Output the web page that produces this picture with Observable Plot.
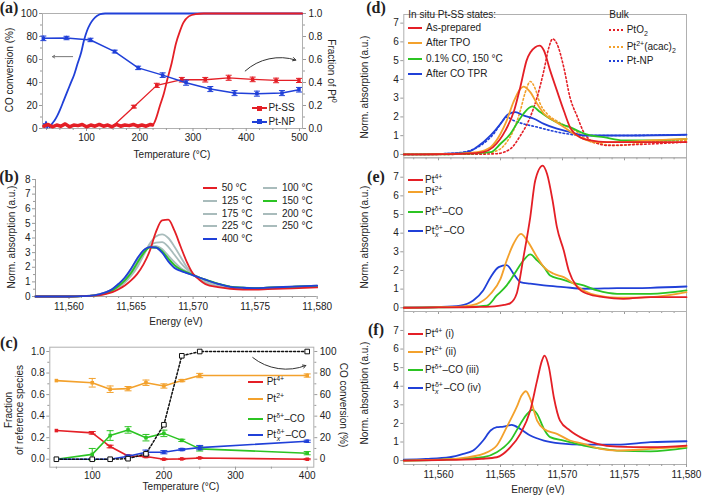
<!DOCTYPE html>
<html><head><meta charset="utf-8">
<script src="https://cdn.jsdelivr.net/npm/d3@7"></script>
<script src="https://cdn.jsdelivr.net/npm/@observablehq/plot@0.6"></script>
<style>
body{margin:0;background:#fff;}
#fig{position:relative;width:702px;height:496px;overflow:hidden;font-family:"Liberation Sans",Arial,sans-serif;font-size:10px;color:#222;background:#fff;}
#fig svg{position:absolute;}
.t{position:absolute;white-space:nowrap;transform:translate(-50%,-50%);line-height:1;text-align:center;}
.l{position:absolute;white-space:nowrap;transform:translate(0,-50%);line-height:1;}
.sw{position:absolute;height:0;}
.pl{font-family:"Liberation Serif","DejaVu Serif",serif;font-weight:bold;font-size:16px;}
sup,sub{font-size:7px;line-height:0;}
.st{display:inline-block;vertical-align:middle;font-size:7px;line-height:7px;text-align:left;margin:0 1px 0 0.5px;}
.st span{display:block;}
</style></head><body><div id="fig"></div>
<script>
// ================= DATA =================
const RED="#e41f26", ORANGE="#f3a12c", GREEN="#2cc423", BLUE="#2040d8", GRAY="#a9bcbc";

// (a) CO conversion (%) and fraction of Pt0
const aXDomain=[17.4,505.6], aYDomain=[0,100];
const aXTicks=[100,200,300,400,500], aXMinor=[25,50,75,125,150,175,225,250,275,325,350,375,425,450,475];
const aYTicks=[0,20,40,60,80,100], aYMinor=[10,30,50,70,90];
const aNpConvT=[20,22,24,26,28,31,35,40,45,50,57,63,70,77,83,90,95,101,107,113,120,126,135,505];
const aNpConv =[4,1,6,0.5,3,1,4,7,11,16,24,31,39,47,56,66,76,85,91,95,98,99.5,100,100];
const aSsConvT=[20,28,36,44,52,60,68,76,84,92,100,108,116,124,132,140,148,156,164,172,180,188,196,204,212,220,224,230,238,245,252,260,268,275,282,292,305,320,505];
const aSsConv =[2,3.5,1.5,3,2,4,1.5,3,2.5,3.5,1.5,3,2,3.5,2,3,1.5,3.5,2,3,2.5,3.5,2,3,2,3.5,3,8,20,30,43,57,74,84,92,97.5,99.5,100,100];
const aNpT=[19,62.5,107.5,153,197,243,287,332.5,378,420,467,499];
const aNpFrac=[0.784,0.787,0.77,0.669,0.527,0.464,0.398,0.343,0.308,0.303,0.308,0.337];
const aNpErr=[0.02,0.015,0.015,0.012,0.015,0.02,0.022,0.022,0.022,0.022,0.022,0.02];
const aSsT=[152,189,232,279,323,367,412,456,499];
const aSsFrac=[0.03,0.19,0.375,0.424,0.424,0.441,0.427,0.418,0.418];
const aSsErr=[0,0.012,0.018,0.02,0.02,0.022,0.02,0.02,0.018];
const aArrowLeft=[{x1:74,y1:62.5,x2:36,y2:62.5}];
const aArrowCurve=[{x1:398,y1:50,x2:493,y2:59.5}];
const aNames=["Pt-SS","Pt-NP"];

// (b) spectra vs temperature
const bXDomain=[11557.3,11580], bYDomain=[0,8];
const bXTicks=[11560,11565,11570,11575,11580];
const bXMinor=[11558,11559,11561,11562,11563,11564,11566,11567,11568,11569,11571,11572,11573,11574,11576,11577,11578,11579];
const bYTicks=[0,1,2,3,4,5,6,7,8], bYMinor=[0.5,1.5,2.5,3.5,4.5,5.5,6.5,7.5];
const eB=[11557.3,11559,11560,11561,11562,11562.5,11563,11563.5,11564,11564.5,11565,11565.5,11566,11566.5,11567,11567.5,11568,11568.5,11569,11569.5,11570,11570.5,11571,11572,11573,11574,11575,11576,11578,11580];
const b50 =[0,0,0,0.02,0.06,0.1,0.18,0.3,0.5,0.75,1.1,1.55,2.2,3.1,4.4,5.2,5.25,4.5,3.4,2.35,1.55,1.15,0.85,0.64,0.53,0.48,0.48,0.5,0.55,0.62];
const b100=[0,0,0,0.02,0.06,0.12,0.22,0.38,0.62,0.95,1.4,2.0,2.8,3.6,4.1,4.25,4.0,3.4,2.7,2.0,1.5,1.2,0.95,0.72,0.58,0.55,0.55,0.58,0.63,0.7];
const b125=[0,0,0,0.02,0.06,0.12,0.23,0.4,0.66,1.0,1.5,2.15,2.9,3.45,3.68,3.72,3.4,2.85,2.3,1.85,1.5,1.25,1.0,0.76,0.62,0.57,0.56,0.58,0.64,0.7];
const b150=[0,0,0,0.02,0.06,0.13,0.25,0.42,0.72,1.1,1.6,2.3,2.95,3.35,3.35,3.1,2.6,2.15,1.85,1.65,1.48,1.3,1.15,0.88,0.68,0.6,0.57,0.6,0.66,0.72];
const b175=[0,0,0,0.02,0.07,0.14,0.26,0.45,0.75,1.15,1.7,2.4,3.05,3.4,3.45,3.25,2.8,2.35,1.95,1.7,1.5,1.28,1.08,0.8,0.64,0.58,0.56,0.59,0.65,0.72];
const b200=[0,0,0,0.02,0.07,0.15,0.28,0.48,0.8,1.2,1.8,2.5,3.1,3.38,3.38,3.1,2.6,2.15,1.85,1.65,1.48,1.28,1.1,0.84,0.66,0.59,0.56,0.6,0.66,0.73];
const b225=[0,0,0,0.02,0.08,0.16,0.29,0.5,0.83,1.25,1.85,2.55,3.12,3.38,3.35,3.05,2.5,2.05,1.8,1.62,1.46,1.29,1.12,0.85,0.66,0.6,0.57,0.6,0.67,0.74];
const b250=[0,0,0,0.02,0.08,0.16,0.3,0.51,0.85,1.28,1.88,2.58,3.14,3.38,3.34,3.02,2.45,2.0,1.78,1.61,1.46,1.3,1.14,0.86,0.66,0.6,0.57,0.6,0.68,0.75];
const b400=[0,0,0,0.02,0.08,0.17,0.3,0.52,0.87,1.3,1.9,2.6,3.15,3.38,3.35,3.0,2.4,1.95,1.75,1.6,1.45,1.3,1.15,0.87,0.66,0.6,0.57,0.6,0.68,0.75];
const bNames=["50 °C","100 °C","125 °C","150 °C","175 °C","200 °C","225 °C","250 °C","400 °C"];

// (c) fractions of reference species
const cXDomain=[40.8,409.2], cYDomain=[-0.074,1.04];
const cXTicks=[100,200,300,400], cXMinor=[50,150,250,350];
const cYTicks=[0,0.2,0.4,0.6,0.8,1.0], cYMinor=[0.1,0.3,0.5,0.7,0.9];
const cRTicks=[0,20,40,60,80,100], cRMinor=[10,30,50,70,90];
const cT=[50,100,125,150,175,200,225,250,400];
const cPt4=[0.266,0.245,0.118,0.03,0.025,0.0,0.003,0.012,0.0];
const cPt4Err=[0,0.012,0.012,0.01,0.01,0.005,0.005,0.005,0.005];
const cPt2=[0.73,0.71,0.65,0.655,0.71,0.68,0.73,0.777,0.777];
const cPt2Err=[0,0.04,0.03,0.02,0.025,0.02,0.01,0.02,0.015];
const cPtd=[0,0.045,0.22,0.272,0.2,0.24,0.175,0.096,0.056];
const cPtdErr=[0,0.055,0.045,0.03,0.03,0.03,0.01,0.02,0.015];
const cPtx=[0,0,0,0.028,0.065,0.065,0.09,0.108,0.167];
const cPtxErr=[0,0,0,0.01,0.02,0.015,0.01,0.02,0.01];
const cConv=[0,0,0,0.5,5,32,96,100,100];
const cArrowCurve=[{x1:324,y1:0.944,x2:398,y2:0.87}];

// (d)(e)(f) spectra
const dXDomain=[11557.2,11580];
const dYDomain=[-0.18,7.46], eYDomain=[-0.2,8.04], fYDomain=[-0.21,8.02];
const dYTicks=[0,1,2,3,4,5,6,7];
const d_asPrep=[[11557.2,0],[11560,0.01],[11562.3,0.04],[11563.6,0.12],[11564.4,0.39],[11565.4,1.28],[11566.1,2.34],[11566.6,3.6],[11567.1,5.0],[11567.8,5.72],[11568.15,5.8],[11568.5,5.54],[11569,4.48],[11569.55,3.4],[11570.1,2.34],[11570.6,1.46],[11571.4,0.92],[11572.25,0.75],[11573.6,0.66],[11575.7,0.66],[11580,0.66]];
const d_afterTPO=[[11557.2,0],[11560,0.02],[11562,0.06],[11563.1,0.12],[11564.2,0.39],[11565,1.1],[11565.5,1.8],[11566.05,2.8],[11566.6,3.5],[11566.85,3.62],[11567.4,3.32],[11567.95,2.7],[11568.5,2.17],[11569.3,1.81],[11570.1,1.46],[11570.9,1.1],[11571.7,0.83],[11572.8,0.66],[11574.4,0.66],[11577.1,0.75],[11580,0.83]];
const d_co150=[[11557.2,0],[11560,0.01],[11562.5,0.05],[11564.2,0.12],[11565,0.57],[11565.8,1.1],[11566.3,1.63],[11566.85,2.17],[11567.55,2.56],[11568.2,2.26],[11569,1.9],[11569.8,1.63],[11570.6,1.46],[11571.45,1.19],[11572.25,1.01],[11573.3,0.92],[11574.9,0.75],[11577.1,0.75],[11580,0.83]];
const d_afterTPR=[[11557.2,0],[11560,0.02],[11562.3,0.12],[11563.1,0.39],[11564.2,1.01],[11565,1.63],[11565.5,2.08],[11566.2,2.26],[11566.85,2.08],[11567.7,1.9],[11568.5,1.63],[11569.55,1.37],[11570.6,1.19],[11571.7,1.01],[11574.4,1.01],[11580,1.05]];
const d_PtO2=[[11557.2,0],[11563,0.01],[11564.7,0.04],[11565.8,0.3],[11566.6,1.0],[11567.4,2.0],[11567.95,3.05],[11568.5,4.48],[11568.9,5.7],[11569.2,6.16],[11569.55,5.9],[11570.1,4.65],[11570.6,3.05],[11571.2,2.0],[11571.7,1.2],[11572.25,0.75],[11572.9,0.57],[11573.6,0.48],[11575.7,0.52],[11578.4,0.6],[11580,0.66]];
const d_acac=[[11557.2,0],[11562,0.02],[11564,0.08],[11565,0.3],[11565.5,0.66],[11566.05,1.28],[11566.6,2.34],[11567,3.32],[11567.4,3.89],[11567.8,3.5],[11568.2,2.7],[11568.75,2.17],[11569.55,1.78],[11570.35,1.49],[11571.2,1.19],[11572,0.75],[11573.05,0.57],[11574.4,0.48],[11577.1,0.66],[11580,0.75]];
const d_PtNP=[[11557.2,0],[11560,0.03],[11561.5,0.08],[11562.55,0.21],[11563.6,0.57],[11564.45,1.1],[11565.1,1.72],[11565.5,1.99],[11566.05,1.81],[11566.85,1.63],[11567.95,1.46],[11569,1.28],[11570.35,1.1],[11571.7,1.01],[11574.4,1.01],[11580,1.05]];
const e_pt4=[[11557.2,0],[11560,0.02],[11563,0.04],[11564.2,0.06],[11565.3,0.15],[11565.8,0.25],[11566.3,0.75],[11566.85,2.7],[11567.4,4.86],[11567.8,6.82],[11568.4,7.62],[11568.75,7.18],[11569.2,5.75],[11569.55,4.32],[11570.1,3.07],[11570.5,2.0],[11571.2,1.1],[11572,0.75],[11573.3,0.57],[11574.9,0.48],[11577.1,0.57],[11580,0.57]];
const e_pt2=[[11557.2,0],[11560,0.03],[11562,0.08],[11563.1,0.21],[11564.2,0.75],[11565,1.55],[11565.5,2.54],[11566.05,3.43],[11566.65,3.96],[11567.15,3.6],[11567.95,2.71],[11568.5,2.18],[11569.3,1.82],[11570.1,1.64],[11570.9,1.29],[11571.7,0.93],[11572.8,0.66],[11574.4,0.54],[11577.1,0.57],[11580,0.84]];
const e_ptd=[[11557.2,0],[11560,0.02],[11562,0.05],[11563.9,0.12],[11564.7,0.66],[11565.5,1.2],[11566.3,2.0],[11566.85,2.54],[11567.4,2.86],[11567.95,2.54],[11568.5,2.18],[11569,1.73],[11569.8,1.55],[11570.6,1.38],[11571.7,1.2],[11572.8,0.93],[11574.4,0.75],[11577.1,0.75],[11580,0.93]];
const e_ptx=[[11557.2,0],[11560,0.04],[11561.75,0.12],[11562.8,0.39],[11563.6,0.93],[11564.2,1.64],[11564.85,2.18],[11565.5,2.29],[11566.05,1.82],[11566.6,1.38],[11567.4,1.29],[11568.5,1.2],[11570.1,1.11],[11571.7,1.02],[11574.4,1.05],[11577.1,1.07],[11580,1.14]];
const f_pt4=[[11557.2,0],[11560,0.03],[11562,0.05],[11563.5,0.1],[11564.7,0.18],[11565.8,0.72],[11566.6,1.44],[11567.4,2.69],[11567.95,4.3],[11568.35,5.39],[11568.55,5.65],[11568.9,5.03],[11569.3,3.41],[11569.8,2.15],[11570.6,1.62],[11571.7,1.17],[11572.8,0.9],[11574.4,0.75],[11577.1,0.72],[11580,0.81]];
const f_pt2=[[11557.2,0],[11560,0.05],[11562,0.15],[11563.6,0.36],[11564.7,0.81],[11565.5,1.8],[11566.3,2.87],[11566.7,3.5],[11567.05,3.73],[11567.4,3.32],[11567.95,2.15],[11568.5,1.7],[11569.55,1.44],[11570.6,1.08],[11571.7,0.9],[11573.05,0.63],[11574.4,0.54],[11577.1,0.63],[11580,0.75]];
const f_ptd=[[11557.2,0],[11560,0.04],[11562,0.1],[11563.6,0.18],[11564.7,0.45],[11565.8,1.08],[11566.6,1.97],[11567.15,2.51],[11567.55,2.73],[11567.95,2.51],[11568.5,1.7],[11569,1.26],[11570.1,1.08],[11571.7,0.81],[11573.3,0.63],[11574.4,0.54],[11577.1,0.5],[11580,0.68]];
const f_ptx=[[11557.2,0.05],[11559,0.09],[11560.9,0.18],[11562,0.36],[11562.8,0.54],[11563.6,1.08],[11564.2,1.62],[11564.7,1.8],[11565.25,1.83],[11565.9,1.92],[11566.6,1.7],[11567.4,1.35],[11568.5,1.08],[11569.8,0.93],[11571.7,0.86],[11574.4,0.86],[11577.1,0.99],[11580,1.04]];

// ================= HELPERS =================
const fig=document.getElementById("fig");
const FONT='"Liberation Sans",Arial,sans-serif';
const baseStyle={fontFamily:FONT,fontSize:"10px",background:"transparent",color:"#222",overflow:"visible"};
const AX="#9a9a9a";
function place(svg,left,top){svg.style.left=left+"px";svg.style.top=top+"px";fig.appendChild(svg);}
function txt(html,x,y,cls,extra){const d=document.createElement("div");d.className=cls||"t";d.innerHTML=html;d.style.left=x+"px";d.style.top=y+"px";if(extra)d.style.cssText+=extra;fig.appendChild(d);return d;}
function vtxt(html,x,y,deg){return txt(html,x,y,"t",`transform:translate(-50%,-50%) rotate(${deg}deg);`);}
function sw(x1,x2,y,color,dotted,marker){
  const s=document.createElement("div");s.className="sw";
  s.style.cssText+=`left:${x1}px;top:${y-1}px;width:${x2-x1}px;border-top:2px ${dotted?"dotted":"solid"} ${color};`;
  fig.appendChild(s);
  if(marker){const m=document.createElement("div");m.style.cssText=`position:absolute;left:${(x1+x2)/2-2.5}px;top:${y-2.5}px;width:5px;height:5px;background:${color}`;fig.appendChild(m);}
}
const capSym={draw(ctx,size){const r=Math.sqrt(size/Math.PI);ctx.moveTo(-r,0);ctx.lineTo(r,0);}};
const E=d3.format(",");
const pairs=a=>a.map(([x,y])=>({x,y}));
function errMarks(tab,color,capR){
  const t=tab.filter(d=>d.e>0);
  return [
    Plot.ruleX(t,{x:"T",y1:"lo",y2:"hi",stroke:color,strokeWidth:1}),
    Plot.dot(t,{x:"T",y:"lo",symbol:capSym,r:capR||3,stroke:color,strokeWidth:1}),
    Plot.dot(t,{x:"T",y:"hi",symbol:capSym,r:capR||3,stroke:color,strokeWidth:1})
  ];
}

// ================= PANEL (a) =================
const aNpConvTab=aNpConvT.map((T,i)=>({T,v:aNpConv[i]}));
const aSsConvTab=aSsConvT.map((T,i)=>({T,v:aSsConv[i]}));
const aNpTab=aNpT.map((T,i)=>({T,v:aNpFrac[i]*100,e:aNpErr[i],lo:(aNpFrac[i]-aNpErr[i])*100,hi:(aNpFrac[i]+aNpErr[i])*100}));
const aSsTab=aSsT.map((T,i)=>({T,v:aSsFrac[i]*100,e:aSsErr[i],lo:(aSsFrac[i]-aSsErr[i])*100,hi:(aSsFrac[i]+aSsErr[i])*100}));
place(Plot.plot({
  width:350,height:165,marginLeft:42,marginRight:48,marginTop:13,marginBottom:37,
  x:{domain:aXDomain},y:{domain:aYDomain},style:baseStyle,
  marks:[
    Plot.frame({stroke:"#b0b0b0"}),
    Plot.axisX({ticks:aXTicks,tickSize:3,tickPadding:2,stroke:AX,label:null}),
    Plot.axisX({ticks:aXMinor,tickSize:2,tickFormat:()=>"",stroke:AX,label:null}),
    Plot.axisY({ticks:aYTicks,tickSize:3,tickPadding:2,stroke:AX,label:null}),
    Plot.axisY({ticks:aYMinor,tickSize:2,tickFormat:()=>"",stroke:AX,label:null}),
    Plot.axisY({anchor:"right",ticks:aYTicks,tickSize:3,tickPadding:3,stroke:AX,label:null,tickFormat:d=>(d/100).toFixed(1)}),
    Plot.axisY({anchor:"right",ticks:aYMinor,tickSize:2,tickFormat:()=>"",stroke:AX,label:null}),
    Plot.line(aNpConvTab,{x:"T",y:"v",stroke:BLUE,strokeWidth:1.8,curve:"monotone-x"}),
    Plot.line(aSsConvTab,{x:"T",y:"v",stroke:RED,strokeWidth:1.8,curve:"monotone-x"}),
    Plot.line(aSsConvTab.filter(d=>d.T<=224),{x:"T",y:"v",stroke:RED,strokeWidth:3.5}),
    Plot.line(aSsTab,{x:"T",y:"v",stroke:RED,strokeWidth:1.3}),
    ...errMarks(aSsTab,RED,3),
    Plot.dot(aSsTab.slice(1),{x:"T",y:"v",symbol:"square",r:2,fill:RED}),
    Plot.line(aNpTab,{x:"T",y:"v",stroke:BLUE,strokeWidth:1.5}),
    ...errMarks(aNpTab,BLUE,3),
    Plot.dot(aNpTab,{x:"T",y:"v",symbol:"square",r:2,fill:BLUE}),
    Plot.arrow(aArrowLeft,{x1:"x1",y1:"y1",x2:"x2",y2:"y2",stroke:"#777",strokeWidth:1,headLength:4}),
    Plot.arrow(aArrowCurve,{x1:"x1",y1:"y1",x2:"x2",y2:"y2",bend:30,stroke:"#333",strokeWidth:1,headLength:5})
  ]
}),0,0);

// ================= PANEL (b) =================
const bSeries=[[b100,GRAY],[b125,GRAY],[b175,GRAY],[b200,GRAY],[b225,GRAY],[b250,GRAY],[b150,GREEN],[b50,RED],[b400,BLUE]];
place(Plot.plot({
  width:350,height:165,marginLeft:35,marginRight:33.3,marginTop:14,marginBottom:34,
  x:{domain:bXDomain},y:{domain:bYDomain},style:baseStyle,
  marks:[
    Plot.ruleX([bXDomain[0]],{stroke:"#a0a0a0"}),
    Plot.ruleY([bYDomain[0]],{stroke:"#a0a0a0"}),
    Plot.axisX({ticks:bXTicks,tickSize:3,tickPadding:3,stroke:AX,label:null,tickFormat:E}),
    Plot.axisX({ticks:bXMinor,tickSize:2,tickFormat:()=>"",stroke:AX,label:null}),
    Plot.axisY({ticks:bYTicks,tickSize:3,tickPadding:2,stroke:AX,label:null}),
    Plot.axisY({ticks:bYMinor,tickSize:2,tickFormat:()=>"",stroke:AX,label:null}),
    ...bSeries.map(([arr,c])=>Plot.line(eB.map((x,i)=>({x,y:arr[i]})),{x:"x",y:"y",stroke:c,strokeWidth:1.8,curve:"monotone-x"}))
  ]
}),0,165);

// ================= PANEL (c) =================
const mk=(v,e)=>cT.map((T,i)=>({T,v:v[i],e:e[i],lo:v[i]-e[i],hi:v[i]+e[i]}));
const cSeries=[[mk(cPt2,cPt2Err),ORANGE],[mk(cPt4,cPt4Err),RED],[mk(cPtd,cPtdErr),GREEN],[mk(cPtx,cPtxErr),BLUE]];
const cConvTab=cT.map((T,i)=>({T,v:cConv[i]/100}));
place(Plot.plot({
  width:350,height:166,marginLeft:49.3,marginRight:36.7,marginTop:16.7,marginBottom:29.3,
  x:{domain:cXDomain},y:{domain:cYDomain},style:baseStyle,
  marks:[
    Plot.frame({stroke:"#b0b0b0"}),
    Plot.axisX({ticks:cXTicks,tickSize:3,tickPadding:2,stroke:AX,label:null}),
    Plot.axisX({ticks:cXMinor,tickSize:2,tickFormat:()=>"",stroke:AX,label:null}),
    Plot.axisY({ticks:cYTicks,tickSize:3,tickPadding:2,stroke:AX,label:null,tickFormat:d=>d.toFixed(1)}),
    Plot.axisY({ticks:cYMinor,tickSize:2,tickFormat:()=>"",stroke:AX,label:null}),
    Plot.axisY({anchor:"right",ticks:cRTicks.map(v=>v/100),tickSize:3,tickPadding:3,stroke:AX,label:null,tickFormat:d=>Math.round(d*100)}),
    Plot.axisY({anchor:"right",ticks:cRMinor.map(v=>v/100),tickSize:2,tickFormat:()=>"",stroke:AX,label:null}),
    ...cSeries.flatMap(([tab,c])=>[
      Plot.line(tab,{x:"T",y:"v",stroke:c,strokeWidth:1.6}),
      ...errMarks(tab,c,3.5),
      Plot.dot(tab,{x:"T",y:"v",symbol:"square",r:2,fill:c})
    ]),
    Plot.line(cConvTab,{x:"T",y:"v",stroke:"#111",strokeWidth:1.5,strokeDasharray:"2,2"}),
    Plot.dot(cConvTab,{x:"T",y:"v",symbol:"square",r:2.6,stroke:"#111",fill:"white",strokeWidth:1}),
    Plot.arrow(cArrowCurve,{x1:"x1",y1:"y1",x2:"x2",y2:"y2",bend:-30,stroke:"#333",strokeWidth:1,headLength:5})
  ]
}),0,330);

// ================= PANELS (d)(e)(f) =================
const dXTicks=[11560,11565,11570,11575,11580];
const dXMinor=[11558,11559,11561,11562,11563,11564,11566,11567,11568,11569,11571,11572,11573,11574,11576,11577,11578,11579];
function specPanel(height,mt,mb,ydom,series,labels){
  return Plot.plot({
    width:352,height,marginLeft:53.3,marginRight:16,marginTop:mt,marginBottom:mb,
    x:{domain:dXDomain},y:{domain:ydom},style:baseStyle,
    marks:[
      Plot.frame({stroke:"#b0b0b0"}),
      Plot.axisX({ticks:dXTicks,tickSize:3,tickPadding:3,stroke:AX,label:null,tickFormat:labels?E:()=>""}),
      Plot.axisX({ticks:dXMinor,tickSize:2,tickFormat:()=>"",stroke:AX,label:null}),
      Plot.axisY({ticks:dYTicks,tickSize:3,tickPadding:2,stroke:AX,label:null}),
      ...series.map(([arr,c,dash])=>Plot.line(pairs(arr),{x:"x",y:"y",stroke:c,strokeWidth:dash?1.6:1.8,strokeDasharray:dash?"1.6,2.4":null,curve:"monotone-x"}))
    ]
  });
}
place(specPanel(160,14,2.7,dYDomain,[[d_PtNP,BLUE,1],[d_acac,ORANGE,1],[d_PtO2,RED,1],[d_afterTPR,BLUE],[d_co150,GREEN],[d_afterTPO,ORANGE],[d_asPrep,RED]],false),350,0);
place(specPanel(165,7.3,4,eYDomain,[[e_ptx,BLUE],[e_ptd,GREEN],[e_pt2,ORANGE],[e_pt4,RED]],false),350,150);
place(specPanel(196,11,32,fYDomain,[[f_ptx,BLUE],[f_ptd,GREEN],[f_pt2,ORANGE],[f_pt4,RED]],true),350,300);

// ================= TEXT: panel letters, axis titles, legends =================
txt("(a)",9,8,"t pl"); txt("(b)",9,177,"t pl"); txt("(c)",9,343,"t pl");
txt("(d)",376,8,"t pl"); txt("(e)",376,177,"t pl"); txt("(f)",376,330,"t pl");

vtxt("CO conversion (%)",10,70,-90);
vtxt("Fraction of Pt<sup>0</sup>",331,71,90);
txt("Temperature (°C)",172,155);
vtxt("Norm. absorption (a.u.)",12,237,-90);
txt("Energy (eV)",176,322);
txt("Fraction<br>of reference species",13.5,410,"t","transform:translate(-50%,-50%) rotate(-90deg);line-height:11px;");
vtxt("CO conversion (%)",343,405,90);
txt("Temperature (°C)",181,487);
vtxt("Norm. absorption (a.u.)",365,87,-90);
vtxt("Norm. absorption (a.u.)",365,237,-90);
vtxt("Norm. absorption (a.u.)",365,393,-90);
txt("Energy (eV)",538,490);

// legend (a)
[[RED,aNames[0],108.3],[BLUE,aNames[1],121.7]].forEach(([c,n,y])=>{sw(251.7,266.7,y,c,false,true);txt(n,268.5,y,"l");});
// legend (b)
const bCols=[[RED,GRAY],[GRAY,GREEN],[GRAY,GRAY],[GRAY,GRAY],[BLUE,null]];
const bRowY=[188.3,201,213.5,226.2,239];
bCols.forEach((row,r)=>{
  sw(203,217,bRowY[r],row[0]);txt(bNames[[0,2,4,6,8][r]],221.7,bRowY[r],"l");
  if(row[1]){sw(263,277,bRowY[r],row[1]);txt(bNames[[1,3,5,7][r]],282,bRowY[r],"l");}
});
// legend (c)
const PTX='Pt<span class="st"><span>δ+</span><span><i>x</i></span></span>–CO';
const PTD='Pt<sup>δ+</sup>–CO';
[[RED,'Pt<sup>4+</sup>',382.3],[ORANGE,'Pt<sup>2+</sup>',399],[GREEN,PTD,419.3],[BLUE,PTX,435]].forEach(([c,h,y])=>{sw(248.3,263.3,y,c);txt(h,266.7,y,"l");});
// legend (d)
txt("In situ Pt-SS states:",408.3,15,"l");
[[RED,"As-prepared",27.7],[ORANGE,"After TPO",42.7],[GREEN,"0.1% CO, 150 °C",59],[BLUE,"After CO TPR",74]].forEach(([c,h,y])=>{sw(408.3,421.7,y,c);txt(h,426,y,"l");});
txt("Bulk",609.3,15,"l");
[[RED,"PtO<sub>2</sub>",30],[ORANGE,"Pt<sup>2+</sup>(acac)<sub>2</sub>",46.7],[BLUE,"Pt-NP",61]].forEach(([c,h,y])=>{sw(609.3,623.3,y,c,true);txt(h,626.7,y,"l");});
// legend (e)
[[RED,'Pt<sup>4+</sup>',180],[ORANGE,'Pt<sup>2+</sup>',192.3],[GREEN,PTD,212.3],[BLUE,PTX,230.7]].forEach(([c,h,y])=>{sw(408.3,422.7,y,c);txt(h,425,y,"l");});
// legend (f)
[[RED,'Pt<sup>4+</sup> (i)',334],[ORANGE,'Pt<sup>2+</sup> (ii)',351.7],[GREEN,PTD+' (iii)',370],[BLUE,PTX+' (iv)',388.3]].forEach(([c,h,y])=>{sw(408.3,422.7,y,c);txt(h,425,y,"l");});
</script></body></html>
